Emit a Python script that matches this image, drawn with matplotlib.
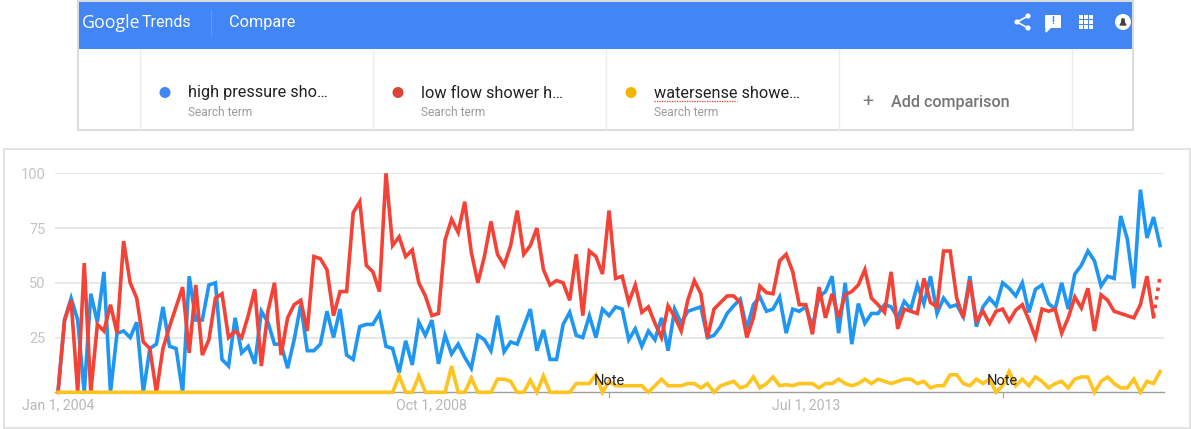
import matplotlib
matplotlib.use("Agg")
import matplotlib.pyplot as plt
from matplotlib.patches import Rectangle, Circle, FancyBboxPatch

plt.rcParams['font.family'] = ['Roboto', 'DejaVu Sans']

# monthly interest values, Jan 2004 onwards
high_pressure = [0, 33, 43, 33, 0, 45, 32, 55, 0, 27, 28, 25, 32, 0, 20, 22, 39, 21, 20, 0,
                 53, 33, 33, 49, 50, 15, 12, 34, 18, 21, 13, 37, 32, 22, 22, 11, 24, 40, 19, 19,
                 22, 37, 25, 38, 17, 15, 30, 31, 31, 36, 21, 20, 9, 23.5, 12.5, 32, 26, 33, 13, 26,
                 17.5, 22, 16, 11, 26, 24, 19, 35, 18.5, 23, 22, 30, 38, 19, 28.5, 15, 15, 31, 36.5, 26,
                 25, 35, 25, 38, 35, 39, 38, 24, 29, 21, 28, 24, 34, 19, 38, 31.5, 37, 38, 39, 25,
                 26, 30, 36, 39.5, 42.5, 29, 40, 43.5, 37, 38, 43.5, 27, 38, 37, 39, 30, 43.5, 46, 53, 27,
                 50, 22, 40.5, 31.5, 36, 36, 40, 39, 34, 41.5, 38, 49, 40.5, 53, 36, 43, 39, 40, 34.5, 53,
                 30, 39, 43, 39.5, 50, 47.5, 44, 50, 36.5, 47, 49, 40.5, 38, 50, 38, 54, 58, 64.5, 60, 48.5,
                 53, 52, 80.5, 70, 47.5, 92.5, 70.5, 80, 67]
low_flow = [0, 33, 42, 0, 59, 0, 31, 28, 40, 27, 69, 50, 43, 23, 20, 0, 20, 30, 39, 48,
            18, 49, 17, 24, 43, 45, 25, 28, 25, 35, 47, 12, 37, 50, 17, 34, 40, 42, 28, 62,
            61, 56, 35, 46, 46, 82, 87, 58, 55, 46, 100, 67, 71, 62, 65, 50, 44, 35, 36, 69.5,
            79, 73, 87, 64, 50, 62, 78, 63, 58, 67, 83, 63, 67, 75, 56, 49, 51, 50, 42, 63,
            35, 64.5, 62, 54, 83, 52, 53, 41, 49, 36.5, 39, 31.5, 25, 39.5, 34.5, 28, 42, 51, 45, 25,
            38, 41, 44, 44, 41, 25, 34, 48.5, 45.5, 45, 60, 63, 55, 40, 40, 26.5, 48, 34, 45, 34,
            44.5, 46, 49, 56, 43, 40, 36.5, 55, 29, 38, 37, 36, 52, 41, 39, 64.5, 64.5, 43, 34, 51,
            32.5, 37, 31.5, 37, 38, 32.5, 37.5, 40, 33, 25, 38, 37, 38, 27, 34, 43.5, 38.5, 47.5, 28, 44.5,
            42, 37, 36, 35, 34, 40, 53, 34.5, 53]
watersense = [0] * 52 + [7.5, 0, 0, 7.5, 0, 0, 0, 0, 12, 0, 0, 6.5, 0, 0, 0, 6, 6, 5, 0, 0,
              5.5, 0, 7.5, 0, 0, 0, 0, 4, 4, 4, 8, 0, 5, 3, 3, 3, 3, 3, 0, 3,
              6, 3, 3, 3, 4, 4, 2, 4, 0, 3, 4, 5, 2, 3, 7, 2, 4, 7, 3, 3.5,
              3, 4, 4, 4, 2, 4, 4, 6, 4, 3, 4, 6, 4, 6, 5, 4, 5, 6, 6, 4,
              5, 2, 3, 3, 8, 8, 4, 3, 6, 4, 6, 0, 3, 9.5, 3, 6, 3, 7, 5, 2,
              4, 5, 2, 6, 7, 7, 0, 5, 7, 4, 2, 2, 6, 0, 5, 4, 9.5]
months = list(range(len(high_pressure)))

y_ticks = [25, 50, 75, 100]
x_tick_months = [0, 57, 114]
x_tick_labels = ["Jan 1, 2004", "Oct 1, 2008", "Jul 1, 2013"]
note_months = [84, 144]

terms = ["high pressure sho…", "low flow shower h…", "watersense showe…"]
term_colors = ["#4285F4", "#DB4437", "#F4B400"]

W, H = 1191, 429
fig = plt.figure(figsize=(W / 100, H / 100), dpi=100)

# page furniture is drawn in pixel coordinates on a full size axes
page = fig.add_axes([0, 0, 1, 1])
page.set_xlim(0, W)
page.set_ylim(H, 0)
page.axis("off")

page.add_patch(Rectangle((78, 1), 1055, 129, fc="white", ec="#dcdcdc", lw=1.5))
page.add_patch(Rectangle((79, 2), 1053, 47, fc="#4285F4", ec="none"))
page.text(82, 22.5, "Google", color="white", fontsize=12.8, va="center", family="Open Sans")
page.text(142, 22.5, "Trends", color="white", fontsize=11.5, va="center")
page.plot([211, 211], [10, 36], color="#5f97f6", lw=0.8)
page.text(229, 22, "Compare", color="white", fontsize=11.7, va="center")

for x in [140, 373, 606, 839, 1072]:
    page.plot([x, x], [50, 130], color="#ececec", lw=1)

for i, term in enumerate(terms):
    x = 165 + i * 233
    page.add_patch(Circle((x, 92.5), 5.5, fc=term_colors[i], ec="none"))
    page.text(x + 23, 93, term, color="#212121", fontsize=11.7, va="center")
    page.text(x + 23, 112, "Search term", color="#9a9a9a", fontsize=8.6, va="center")
page.plot([654, 737], [101, 101], color="#e53935", lw=0.9, ls=(0, (1, 1)))

page.text(862, 102, "+", color="#7a7a7a", fontsize=14, va="center")
page.text(891, 103, "Add comparison", color="#757575", fontsize=11.6, va="center", weight="medium")

# header icons
page.plot([1028, 1017, 1028], [16, 22, 28], color="white", lw=1.2)
for cx, cy in [(1028, 16), (1017, 22), (1028, 28)]:
    page.add_patch(Circle((cx, cy), 2.6, fc="white", ec="none"))
page.add_patch(FancyBboxPatch((1046, 16), 14, 11, boxstyle="round,pad=1", fc="white", ec="none"))
page.fill([1046, 1046, 1051], [26, 32, 27], color="white")
page.text(1053, 21.5, "!", color="#4285F4", fontsize=7.5, weight="bold", ha="center", va="center")
for cx in [1081, 1086, 1091]:
    for cy in [17, 22, 27]:
        page.add_patch(Rectangle((cx - 1.7, cy - 1.7), 3.4, 3.4, fc="white", ec="none"))
page.add_patch(Circle((1123, 22), 8, fc="white", ec="none"))
page.fill([1120, 1126, 1124.5, 1124, 1122, 1121.5], [25, 25, 23, 19, 19, 23], color="#424242")

# chart frame
page.add_patch(Rectangle((4, 149), 1186, 279, fc="white", ec="#e0e0e0", lw=1.3))

# chart axes: first month at px 58, 6.56 px a month; y 0 at px 392.3, 100 at 173.3
left, right = 55, 1164
bottom, top = 392.3, 173.3
ax = fig.add_axes([left / W, 1 - bottom / H, (right - left) / W, (bottom - top) / H])
ax.patch.set_alpha(0)
ax.set_xlim((left - 58) / 6.56, (right - 58) / 6.56)
ax.set_ylim(0, 100)
for side in ["top", "right", "left"]:
    ax.spines[side].set_visible(False)
ax.spines["bottom"].set_color("#9e9e9e")
ax.spines["bottom"].set_linewidth(1)
ax.set_yticks(y_ticks)
ax.grid(axis="y", color="#e4e4e4", lw=1.2)
ax.set_axisbelow(True)
ax.tick_params(axis="y", length=0, pad=7, labelcolor="#c4c4c4", labelsize=10.5)
ax.set_xticks(x_tick_months)
ax.set_xticklabels(x_tick_labels)
ax.tick_params(axis="x", length=0, pad=4, labelcolor="#b8b8b8", labelsize=10.2)

lw = 2.6
ax.plot(months, high_pressure, color="#1E96F2", lw=lw, clip_on=False, zorder=3, solid_joinstyle="miter")
ax.plot(months[:-1], low_flow[:-1], color="#F44336", lw=lw, clip_on=False, zorder=3, solid_joinstyle="miter")
ax.plot(months[-2:], low_flow[-2:], color="#F44336", lw=lw, ls=(0, (1, 1.4)), clip_on=False, zorder=3)
ax.plot(months, watersense, color="#FFC41F", lw=lw, clip_on=False, zorder=3, solid_joinstyle="miter")

for m in note_months:
    ax.plot([m, m], [0, -2], color="#9e9e9e", lw=0.8, clip_on=False)
    ax.text(m, 5.3, "Note", color="#212121", fontsize=10.5, ha="center", va="center", zorder=4)

fig.savefig("out.png", dpi=100)
